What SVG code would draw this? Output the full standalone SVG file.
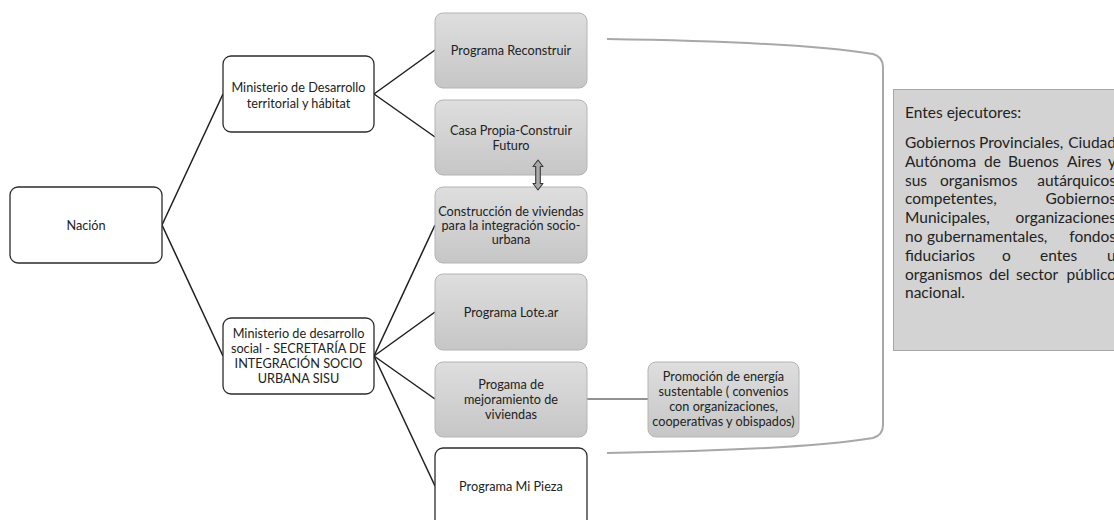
<svg xmlns="http://www.w3.org/2000/svg" width="1114" height="520" viewBox="0 0 1114 520">
  <defs>
    <linearGradient id="grayFill" x1="0" y1="0" x2="0" y2="1">
      <stop offset="0" stop-color="#dedede"/>
      <stop offset="1" stop-color="#c6c6c6"/>
    </linearGradient>
    <style>
      .white { fill: #ffffff; stroke: #2b2b2b; stroke-width: 1.3; }
      .gray { fill: url(#grayFill); stroke: #b4b4b4; stroke-width: 1; }
      .lbl { font-family: Lato, "Liberation Sans", sans-serif; font-size: 12.7px; fill: #222222; text-anchor: middle; }
      .conn { stroke: #1e1e1e; stroke-width: 1.5; fill: none; }
      .conn-gray { stroke: #6e6e6e; stroke-width: 1.6; fill: none; }
      .bracket { stroke: #a8a8a8; stroke-width: 2; fill: none; }
      .note { font-family: Lato, "Liberation Sans", sans-serif; font-size: 15.5px; fill: #222222; }
      .end { text-anchor: end; }
    </style>
  </defs>

  <rect width="1114" height="520" fill="#ffffff"/>

  <!-- connectors -->
  <g id="connectors">
    <line class="conn" x1="162" y1="225" x2="223" y2="94"/>
    <line class="conn" x1="162" y1="225" x2="223" y2="356"/>
    <line class="conn" x1="374" y1="94" x2="435" y2="50"/>
    <line class="conn" x1="374" y1="94" x2="435" y2="137"/>
    <line class="conn" x1="374" y1="356" x2="435" y2="225"/>
    <line class="conn" x1="374" y1="356" x2="435" y2="312"/>
    <line class="conn" x1="374" y1="356" x2="435" y2="399"/>
    <line class="conn" x1="374" y1="356" x2="435" y2="486"/>
    <line class="conn-gray" x1="587" y1="399" x2="648" y2="399"/>
    <!-- bracket grouping the programmes -->
    <path class="bracket" d="M607,39 Q800,42 873,54 Q883,57 883,67 L883,425 Q883,435 873,438 Q800,450 607,453"/>
  </g>

  <g id="nacion">
    <rect class="white" x="10" y="187" width="152" height="76" rx="8"/>
    <text class="lbl" x="86" y="229.5">Nación</text>
  </g>

  <g id="ministerio-territorial">
    <rect class="white" x="223" y="56" width="151" height="76" rx="8"/>
    <text class="lbl" x="298.5" y="91.5">Ministerio de Desarrollo</text>
    <text class="lbl" x="298.5" y="107.5">territorial y hábitat</text>
  </g>

  <g id="ministerio-social">
    <rect class="white" x="223" y="318" width="151" height="76" rx="8"/>
    <text class="lbl" x="298.5" y="337.5">Ministerio de desarrollo</text>
    <text class="lbl" x="298.5" y="353">social - SECRETARÍA DE</text>
    <text class="lbl" x="298.5" y="368">INTEGRACIÓN SOCIO</text>
    <text class="lbl" x="298.5" y="383">URBANA SISU</text>
  </g>

  <g id="reconstruir">
    <rect class="gray" x="435" y="13" width="152" height="75" rx="8"/>
    <text class="lbl" x="511" y="55">Programa Reconstruir</text>
  </g>

  <g id="casa-propia">
    <rect class="gray" x="435" y="100" width="152" height="75" rx="8"/>
    <text class="lbl" x="511" y="134.5">Casa Propia-Construir</text>
    <text class="lbl" x="511" y="149.5">Futuro</text>
  </g>

  <g id="construccion">
    <rect class="gray" x="435" y="187" width="152" height="76" rx="8"/>
    <text class="lbl" x="511" y="215.5">Construcción de viviendas</text>
    <text class="lbl" x="511" y="229.5">para la integración socio-</text>
    <text class="lbl" x="511" y="243.5">urbana</text>
  </g>

  <g id="lote-ar">
    <rect class="gray" x="435" y="274" width="152" height="76" rx="8"/>
    <text class="lbl" x="511" y="316.5">Programa Lote.ar</text>
  </g>

  <g id="mejoramiento">
    <rect class="gray" x="435" y="362" width="152" height="75" rx="8"/>
    <text class="lbl" x="511" y="388.5">Progama de</text>
    <text class="lbl" x="511" y="404">mejoramiento de</text>
    <text class="lbl" x="511" y="418.5">viviendas</text>
  </g>

  <g id="mi-pieza">
    <rect class="white" x="435" y="448" width="152" height="80" rx="8"/>
    <text class="lbl" x="511" y="490.5">Programa Mi Pieza</text>
  </g>

  <g id="energia">
    <rect class="gray" x="648" y="362" width="151" height="75" rx="8"/>
    <text class="lbl" x="723.5" y="380.5">Promoción de energía</text>
    <text class="lbl" x="723.5" y="395.5">sustentable ( convenios</text>
    <text class="lbl" x="723.5" y="410.5">con organizaciones,</text>
    <text class="lbl" x="723.5" y="425.5">cooperativas y obispados)</text>
  </g>

  <!-- two-way link between Casa Propia and Construcción, drawn over both boxes -->
  <g id="link-casa-construccion">
    <polygon points="538,160 543,166.5 540.3,166.5 540.3,183.5 543,183.5 538,190 533,183.5 535.7,183.5 535.7,166.5 533,166.5" fill="#a9a9a9" stroke="#3a3a3a" stroke-width="1.1" stroke-linejoin="round"/>
  </g>

  <g id="entes-ejecutores">
    <rect x="893.5" y="89.5" width="240" height="261" fill="#d3d3d3" stroke="#a6a6a6" stroke-width="1"/>
    <text class="note" x="905" y="117.5">Entes ejecutores:</text>
    <text class="note" x="905" y="148">Gobiernos</text>
    <text class="note" x="979" y="148">Provinciales,</text>
    <text class="note end" x="1116" y="148">Ciudad</text>
    <text class="note" x="905" y="166.8">Autónoma</text>
    <text class="note" x="984" y="166.8">de</text>
    <text class="note" x="1008" y="166.8">Buenos</text>
    <text class="note" x="1067" y="166.8">Aires</text>
    <text class="note end" x="1116" y="166.8">y</text>
    <text class="note" x="905" y="185.6">sus</text>
    <text class="note" x="940" y="185.6">organismos</text>
    <text class="note end" x="1116" y="185.6">autárquicos</text>
    <text class="note" x="905" y="204.4">competentes,</text>
    <text class="note end" x="1116" y="204.4">Gobiernos</text>
    <text class="note" x="905" y="223.2">Municipales,</text>
    <text class="note end" x="1116" y="223.2">organizaciones</text>
    <text class="note" x="905" y="242">no</text>
    <text class="note" x="927" y="242">gubernamentales,</text>
    <text class="note end" x="1116" y="242">fondos</text>
    <text class="note" x="905" y="260.8">fiduciarios</text>
    <text class="note" x="1002" y="260.8">o</text>
    <text class="note" x="1040" y="260.8">entes</text>
    <text class="note" x="1107" y="260.8">u</text>
    <text class="note" x="905" y="279.6">organismos</text>
    <text class="note" x="989" y="279.6">del</text>
    <text class="note" x="1016" y="279.6">sector</text>
    <text class="note end" x="1116" y="279.6">público</text>
    <text class="note" x="905" y="298.4">nacional.</text>
  </g>
</svg>
